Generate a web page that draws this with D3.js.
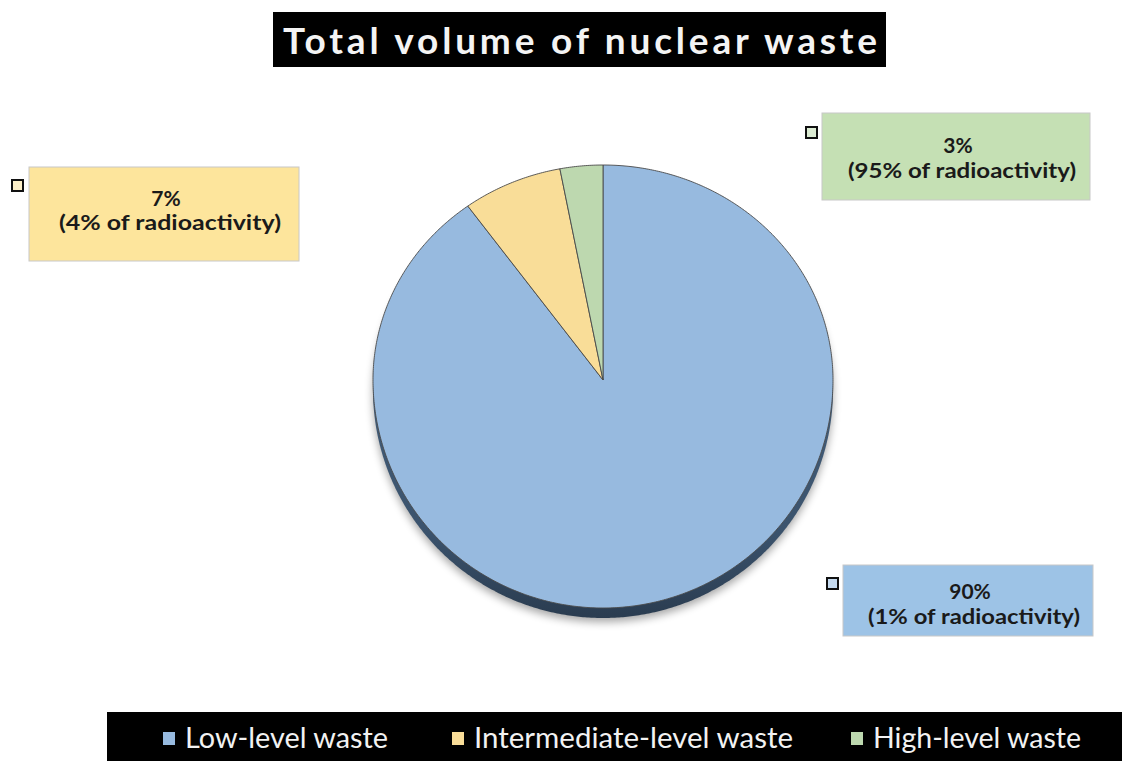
<!DOCTYPE html>
<html>
<head>
<meta charset="utf-8">
<script src="https://cdn.jsdelivr.net/npm/d3@7"></script>
<style>
  html, body { margin: 0; padding: 0; background: #ffffff; }
  svg { display: block; }
</style>
</head>
<body>
<svg id="chart" width="1122" height="761"></svg>
<script>
// ---- data ----
const chartTitle = "Total volume of nuclear waste";
const categories = ["Low-level waste", "Intermediate-level waste", "High-level waste"];
const volumeShare = [90, 7, 3];            // % of total waste volume
const radioactivityShare = [1, 4, 95];     // % of total radioactivity

// ---- styling ----
const sliceColors = ["#97badf", "#f9dd98", "#bdd8af"];
const boxColors   = ["#9dc3e6", "#fde59c", "#c5e0b4"];
const markerFill  = ["#c6dbf0", "#fdf0c8", "#dcecd3"];

// label box layout (box rect, marker square, baselines of the two lines)
const labelLayout = [
  { x: 843, y: 565, w: 250, h: 71, sx: 827, sy: 578, b1: 599, b2: 624, tw: 212 },
  { x: 29,  y: 167, w: 270, h: 94, sx: 12,  sy: 180, b1: 206, b2: 230, tw: 222 },
  { x: 822, y: 113, w: 268, h: 87, sx: 806, sy: 127, b1: 153, b2: 178, tw: 228 }
];

const svg = d3.select("#chart");
const defs = svg.append("defs");

// ---- title ----
const titleG = svg.append("g");
titleG.append("rect")
  .attr("x", 273).attr("y", 12).attr("width", 613).attr("height", 55)
  .attr("fill", "#000");
titleG.append("text")
  .attr("x", 283).attr("y", 54)
  .attr("font-family", "Lato, 'Open Sans', sans-serif")
  .attr("font-weight", 700)
  .attr("font-size", 37)
  .attr("fill", "#f4f4f4")
  .attr("textLength", 594)
  .attr("lengthAdjust", "spacing")
  .text(chartTitle);

// ---- pie geometry (tilted disc, slightly deeper toward the viewer) ----
const cx = 603, cy = 380, rx = 230, ryTop = 215, ryBottom = 228;
const project = (angle, t) => {
  const yv = -Math.cos(angle) * t;
  return [cx + Math.sin(angle) * t * rx, cy + yv * (yv < 0 ? ryTop : ryBottom)];
};

const pie = d3.pie().sort(null).value(d => d).startAngle(0).endAngle(2 * Math.PI);
const arcs = pie(volumeShare);
const line = d3.line();

const arcPoints = (a0, a1) => {
  const n = Math.max(2, Math.ceil((a1 - a0) / (Math.PI / 360)));
  return d3.range(n + 1).map(i => project(a0 + (a1 - a0) * i / n, 1));
};

const slicePath = d => line([[cx, cy], ...arcPoints(d.startAngle, d.endAngle)]) + "Z";
const discPath = (dy) => line(arcPoints(0, 2 * Math.PI).map(p => [p[0], p[1] + dy])) + "Z";

// soft drop shadow
defs.append("filter").attr("id", "soft")
  .attr("x", "-20%").attr("y", "-20%").attr("width", "140%").attr("height", "140%")
  .append("feGaussianBlur").attr("stdDeviation", 4);

const rimGrad = defs.append("linearGradient").attr("id", "rim")
  .attr("x1", 0).attr("y1", 0).attr("x2", 0).attr("y2", 1);
rimGrad.append("stop").attr("offset", "0%").attr("stop-color", "#4d6a88");
rimGrad.append("stop").attr("offset", "80%").attr("stop-color", "#3b536d");
rimGrad.append("stop").attr("offset", "100%").attr("stop-color", "#2a3c50");

const pieG = svg.append("g");
pieG.append("path").attr("d", discPath(14))
  .attr("fill", "#000").attr("opacity", 0.35).attr("filter", "url(#soft)");
pieG.append("path").attr("d", discPath(10))
  .attr("fill", "url(#rim)");

pieG.selectAll("path.slice")
  .data(arcs)
  .join("path")
  .attr("class", "slice")
  .attr("d", slicePath)
  .attr("fill", (d, i) => sliceColors[i])
  .attr("stroke", "#4a4a4a")
  .attr("stroke-width", 0.9)
  .attr("stroke-linejoin", "round");

// ---- data labels ----
const labels = svg.append("g").selectAll("g")
  .data(arcs)
  .join("g");

labels.append("rect")
  .attr("x", (d, i) => labelLayout[i].x)
  .attr("y", (d, i) => labelLayout[i].y)
  .attr("width", (d, i) => labelLayout[i].w)
  .attr("height", (d, i) => labelLayout[i].h)
  .attr("fill", (d, i) => boxColors[i])
  .attr("stroke", "#c8c8c8")
  .attr("stroke-width", 1);

labels.append("rect")
  .attr("x", (d, i) => labelLayout[i].sx)
  .attr("y", (d, i) => labelLayout[i].sy)
  .attr("width", 11).attr("height", 11)
  .attr("fill", (d, i) => markerFill[i])
  .attr("stroke", "#111")
  .attr("stroke-width", 2);

labels.append("text")
  .attr("x", (d, i) => labelLayout[i].x + labelLayout[i].w / 2 + 2)
  .attr("y", (d, i) => labelLayout[i].b1)
  .attr("text-anchor", "middle")
  .attr("font-family", "Lato, 'Open Sans', sans-serif")
  .attr("font-weight", 700)
  .attr("font-size", 21)
  .attr("fill", "#1a1a1a")
  .text(d => `${d.data}%`);

labels.append("text")
  .attr("x", (d, i) => labelLayout[i].x + labelLayout[i].w / 2 + 6)
  .attr("y", (d, i) => labelLayout[i].b2)
  .attr("text-anchor", "middle")
  .attr("font-family", "Lato, 'Open Sans', sans-serif")
  .attr("font-weight", 700)
  .attr("font-size", 21)
  .attr("fill", "#1a1a1a")
  .attr("textLength", (d, i) => labelLayout[i].tw)
  .attr("lengthAdjust", "spacingAndGlyphs")
  .text((d, i) => `(${radioactivityShare[i]}% of radioactivity)`);

// ---- legend ----
const legendX = [163, 452, 851];
const legendTextW = [203, 319, 208];
const legend = svg.append("g");
legend.append("rect")
  .attr("x", 107).attr("y", 712).attr("width", 1015).attr("height", 49)
  .attr("fill", "#000");
const items = legend.selectAll("g.item")
  .data(categories)
  .join("g").attr("class", "item");
items.append("rect")
  .attr("x", (d, i) => legendX[i]).attr("y", 732)
  .attr("width", 12).attr("height", 13)
  .attr("fill", (d, i) => sliceColors[i]);
items.append("text")
  .attr("x", (d, i) => legendX[i] + 22)
  .attr("y", 748)
  .attr("font-family", "Lato, 'Open Sans', sans-serif")
  .attr("font-size", 29)
  .attr("fill", "#f2f2f2")
  .attr("textLength", (d, i) => legendTextW[i])
  .attr("lengthAdjust", "spacingAndGlyphs")
  .text(d => d);
</script>
</body>
</html>
